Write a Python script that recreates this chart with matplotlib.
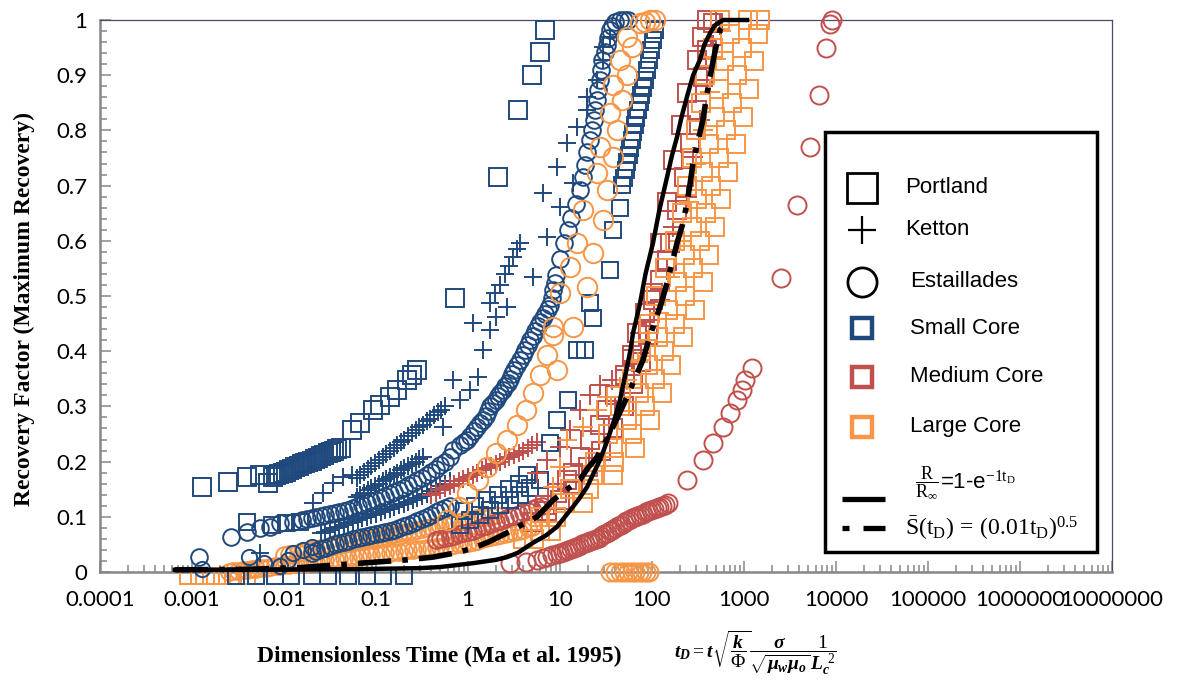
import numpy as np
import matplotlib
matplotlib.use("Agg")
import matplotlib.pyplot as plt
from matplotlib.patches import Rectangle
from matplotlib.ticker import FixedLocator, LogLocator, MultipleLocator, FuncFormatter, NullFormatter

plt.rcParams['font.family'] = ['Lato', 'DejaVu Sans']
plt.rcParams['mathtext.fontset'] = 'custom'
plt.rcParams['mathtext.rm'] = 'Liberation Serif'
plt.rcParams['mathtext.it'] = 'Liberation Serif:italic:bold'
plt.rcParams['mathtext.bf'] = 'Liberation Serif:bold'

BLUE = '#1F497D'
RED = '#C0504D'
ORANGE = '#F79646'

# ---------------- Small core (blue) ----------------
# Portland, small core
ps1_t = [0.00128, 0.00246, 0.00396, 0.0055, 0.0067,
         0.00759, 0.00822, 0.00891, 0.00966, 0.0105, 0.0114, 0.0123, 0.0133, 0.0145, 0.0157, 0.017,
         0.0184, 0.02, 0.0216, 0.0234, 0.0254, 0.0275, 0.0299, 0.0324, 0.0351, 0.038, 0.0412,
         0.0548, 0.067, 0.0927, 0.11, 0.142, 0.169, 0.217, 0.246, 0.279,
         0.722, 2.12, 3.49, 4.96, 6.07, 6.88]
ps1_r = [0.154, 0.163, 0.172, 0.176, 0.161,
         0.172, 0.175, 0.177, 0.18, 0.182, 0.185, 0.187, 0.19, 0.192, 0.195, 0.197, 0.2, 0.202, 0.205,
         0.207, 0.21, 0.212, 0.215, 0.217, 0.22, 0.222, 0.225,
         0.257, 0.27, 0.293, 0.303, 0.317, 0.33, 0.348, 0.357, 0.366,
         0.496, 0.716, 0.837, 0.900, 0.942, 0.982]
ps2_t = [0.004, 0.0075, 0.0105, 0.015, 0.82, 1.05, 1.35, 1.73, 2.23, 2.86, 3.67, 4.72, 6.07, 7.79, 9.28,
         12.2, 15.3, 18.7, 22.8, 21.2, 34.9, 37.7, 44.9, 47.2, 49.5, 52, 53.5, 56, 57.7, 60.7, 62.2, 65.3,
         67, 70.4, 74.1, 76, 79.8, 84, 88, 93, 98, 102.5, 108]
ps2_r = [0.091, 0.085, 0.088, 0.09, 0.085, 0.094, 0.103, 0.112, 0.121, 0.13, 0.139, 0.152, 0.167, 0.234,
         0.275, 0.312, 0.402, 0.402, 0.46, 0.487, 0.547, 0.62, 0.66, 0.701, 0.714, 0.728, 0.743, 0.755,
         0.768, 0.783, 0.797, 0.81, 0.822, 0.837, 0.851, 0.864, 0.877, 0.891, 0.909, 0.928, 0.946, 0.964,
         0.982]
ps3_t = [0.9, 1.2, 1.6, 2.1, 2.8, 3.6, 4.4, 0.003, 0.005, 0.008, 0.012, 0.02, 0.03, 0.05, 0.08, 0.12, 0.2]
ps3_r = [0.11, 0.12, 0.13, 0.14, 0.15, 0.16, 0.175, -0.008, -0.008, -0.008, -0.008, -0.008, -0.008,
         -0.008, -0.008, -0.008, -0.008]

# Ketton, small core
ks1_t = [0.0055, 0.0207, 0.0265, 0.0341, 0.0438, 0.055,
         0.0617, 0.0676, 0.0741, 0.0813, 0.0891, 0.0977, 0.107, 0.118, 0.129, 0.141, 0.155, 0.17, 0.186,
         0.204, 0.224, 0.246, 0.269, 0.295, 0.324, 0.355, 0.389, 0.427, 0.468, 0.513, 0.562]
ks1_r = [0.034, 0.125, 0.143, 0.161, 0.172, 0.175,
         0.17, 0.175, 0.181, 0.186, 0.192, 0.197, 0.203, 0.208, 0.213, 0.219, 0.224, 0.23, 0.235, 0.24,
         0.246, 0.251, 0.257, 0.262, 0.267, 0.273, 0.278, 0.284, 0.289, 0.294, 0.3]
ks2_t = [0.0617, 0.0676, 0.0741, 0.0813, 0.0891, 0.0977, 0.107, 0.118, 0.129, 0.141, 0.155, 0.17, 0.186,
         0.204, 0.224, 0.246, 0.269, 0.295, 0.324]
ks2_r = [0.136, 0.14, 0.144, 0.148, 0.152, 0.156, 0.16, 0.164, 0.168, 0.172, 0.176, 0.18, 0.184, 0.188,
         0.192, 0.196, 0.2, 0.204, 0.208]
ks3_t = [0.535, 0.82, 0.69, 1.05, 1.27, 1.46, 1.13, 1.73, 2.0, 2.66, 1.73, 1.95, 2.2, 2.5, 2.8, 3.1, 3.4, 3.67]
ks3_r = [0.263, 0.312, 0.348, 0.33, 0.353, 0.402, 0.451, 0.438, 0.462, 0.48, 0.487, 0.505, 0.52, 0.54,
         0.555, 0.57, 0.585, 0.596]
ks4_t = [5.09, 7.23, 6.5, 10, 13.8, 9.28, 11.9, 15.3, 19.7, 19.7, 25.2, 29.3, 29.3, 34.9]
ks4_r = [0.534, 0.607, 0.687, 0.661, 0.705, 0.734, 0.777, 0.806, 0.837, 0.861, 0.891, 0.928, 0.951, 0.969]
ks5_t = [0.0251, 0.0282, 0.0316, 0.0355, 0.0398, 0.0447, 0.0501, 0.0562, 0.0631, 0.0708, 0.0794, 0.0891,
         0.1, 0.112, 0.126, 0.141, 0.158, 0.178, 0.2, 0.224, 0.251, 0.282, 0.316, 0.355, 0.398, 0.447,
         0.501, 0.562, 0.631]
ks5_r = [0.07, 0.073, 0.076, 0.079, 0.082, 0.085, 0.088, 0.091, 0.094, 0.097, 0.1, 0.103, 0.106, 0.109,
         0.112, 0.115, 0.118, 0.121, 0.124, 0.127, 0.13, 0.134, 0.138, 0.142, 0.146, 0.15, 0.155, 0.16,
         0.165]

# Estaillades, small core
es1_t = [0.0012, 0.00265, 0.004, 0.0055, 0.007, 0.009, 0.0125,
         0.0158, 0.0178, 0.02, 0.0224, 0.0251, 0.0282, 0.0316, 0.0355, 0.0398, 0.0447, 0.0501, 0.0562,
         0.0631, 0.0708, 0.0794, 0.0891, 0.1, 0.112, 0.126, 0.141, 0.158, 0.178, 0.2, 0.224, 0.251, 0.282,
         0.316, 0.355, 0.398, 0.447, 0.501, 0.562, 0.631, 0.69,
         0.82, 0.9, 0.975, 1.06, 1.15, 1.25, 1.35, 1.45, 1.55, 1.64, 1.73, 1.86, 2.0, 2.11, 2.23, 2.39, 2.55,
         2.7, 2.86, 3.02, 3.2, 3.43, 3.67, 3.93, 4.2, 4.45, 4.72, 5.05, 5.4, 5.72, 6.07, 6.47, 6.9, 7.33,
         7.79, 8.1, 8.4, 8.72, 9.06, 10.0, 11.1, 12.2, 13.3, 14.8, 16.5, 17.6, 18.7, 19.9, 21.2, 22.3, 23.5,
         24.3, 25.2, 26.2, 27.2, 27.9, 28.6, 30.5, 32.4, 33.6, 34.9, 37.2, 39.6, 44.9, 50, 54.8]
es1_r = [0.027, 0.063, 0.072, 0.08, 0.082, 0.089, 0.091,
         0.094, 0.096, 0.098, 0.1, 0.101, 0.103, 0.105, 0.107, 0.109, 0.111, 0.113, 0.116, 0.119, 0.122,
         0.125, 0.128, 0.131, 0.134, 0.137, 0.141, 0.145, 0.149, 0.153, 0.157, 0.161, 0.166, 0.171, 0.176,
         0.181, 0.187, 0.193, 0.2, 0.208, 0.221,
         0.23, 0.235, 0.239, 0.247, 0.255, 0.262, 0.27, 0.276, 0.282, 0.291, 0.3, 0.306, 0.312, 0.318,
         0.324, 0.33, 0.337, 0.343, 0.35, 0.358, 0.366, 0.375, 0.384, 0.393, 0.402, 0.411, 0.42, 0.428,
         0.437, 0.445, 0.453, 0.46, 0.468, 0.476, 0.484, 0.497, 0.51, 0.524, 0.538, 0.567, 0.596, 0.619,
         0.641, 0.667, 0.692, 0.715, 0.737, 0.76, 0.783, 0.801, 0.819, 0.837, 0.855, 0.873, 0.891, 0.91,
         0.928, 0.942, 0.955, 0.968, 0.982, 0.99, 0.996, 1.0, 1.0, 1.0]
es2_t = [0.02, 0.0224, 0.0251, 0.0282, 0.0316, 0.0355, 0.0398, 0.0447, 0.0501, 0.0562, 0.0631, 0.0708,
         0.0794, 0.0891, 0.1, 0.112, 0.126, 0.141, 0.158, 0.178, 0.2, 0.224, 0.251, 0.282, 0.316, 0.355,
         0.398, 0.447, 0.501, 0.562, 0.631]
es2_r = [0.035, 0.038, 0.041, 0.044, 0.047, 0.05, 0.053, 0.055, 0.057, 0.059, 0.061, 0.063, 0.065, 0.067,
         0.069, 0.071, 0.073, 0.075, 0.077, 0.08, 0.083, 0.086, 0.089, 0.092, 0.096, 0.1, 0.104, 0.108,
         0.112, 0.116, 0.12]
es3_t = [0.0013, 0.0042, 0.006, 0.009, 0.011, 0.0125, 0.016, 0.02]
es3_r = [0.006, 0.027, 0.016, 0.01, 0.022, 0.034, 0.04, 0.045]

# ---------------- Large core (orange) ----------------
pl1_t = [0.0009, 0.0012, 0.0016, 0.0021, 0.0028, 0.004]
pl1_r = [-0.007, -0.007, -0.007, -0.007, -0.007, -0.007]
pl2_t = [4, 6, 13, 24, 33, 45, 60, 75, 92, 110, 140, 180, 210, 240, 270, 300, 340, 380, 460, 550]
pl2_r = [0.06, 0.1, 0.15, 0.2, 0.25, 0.3, 0.35, 0.4, 0.45, 0.5, 0.55, 0.6, 0.65, 0.7, 0.75, 0.8, 0.85,
         0.9, 0.95, 1.0]
pl3_t = [6, 11, 23, 38, 54, 72, 91, 117, 149, 185, 227, 270, 310, 355, 415, 480, 535, 605, 700]
pl3_r = [0.075, 0.125, 0.175, 0.225, 0.275, 0.325, 0.375, 0.425, 0.475, 0.525, 0.575, 0.625, 0.675,
         0.725, 0.775, 0.825, 0.875, 0.925, 0.975]
pl4_t = [5.2, 9, 20.5, 39, 60, 84, 108, 135, 180, 230, 280, 335, 390, 440, 530, 640, 740, 830, 950, 1100]
pl4_r = [0.06, 0.1, 0.15, 0.2, 0.25, 0.3, 0.35, 0.4, 0.45, 0.5, 0.55, 0.6, 0.65, 0.7, 0.75, 0.8, 0.85,
         0.9, 0.95, 1.0]
pl5_t = [8, 18, 38, 65, 95, 128, 162, 215, 290, 360, 420, 485, 560, 670, 820, 970, 1120, 1270, 1420, 1500]
pl5_r = [0.075, 0.125, 0.175, 0.225, 0.275, 0.325, 0.375, 0.425, 0.475, 0.525, 0.575, 0.625, 0.675,
         0.725, 0.775, 0.825, 0.875, 0.925, 0.975, 1.0]
kl1_t = [8.4, 10, 11.9, 17.8, 25.2, 32.4, 44.9, 53.5, 70, 90, 120, 157, 200, 250, 300, 360, 430, 500, 560]
kl1_r = [0.154, 0.19, 0.239, 0.263, 0.293, 0.317, 0.335, 0.348, 0.38, 0.42, 0.47, 0.534, 0.6, 0.67, 0.74,
         0.8, 0.87, 0.93, 0.98]
el1_t = [0.0025, 0.00282, 0.00316, 0.00355, 0.00398, 0.00447, 0.00501, 0.00562, 0.00631, 0.00708,
         0.00794, 0.00891, 0.01, 0.0112, 0.0126, 0.0141, 0.0158, 0.0178, 0.02, 0.0224, 0.0251, 0.0282,
         0.0316, 0.0355, 0.0398, 0.0447, 0.0501, 0.0562, 0.0631, 0.0708, 0.0794, 0.0891, 0.1, 0.112, 0.126,
         0.141, 0.158, 0.178, 0.2, 0.224, 0.251, 0.282, 0.316, 0.355, 0.398, 0.447, 0.501, 0.562, 0.631,
         0.708, 0.794, 0.891, 1.0, 1.12, 1.26, 1.41, 1.58, 1.78, 2.0, 2.24, 2.51, 2.82, 3.16, 3.55, 3.98,
         4.47, 5.01]
el1_r = [0.0, 0.001, 0.002, 0.003, 0.004, 0.005, 0.006, 0.007, 0.008, 0.009, 0.01, 0.011, 0.012,
         0.013, 0.014, 0.015, 0.016, 0.017, 0.018, 0.019, 0.02, 0.021, 0.022, 0.023, 0.024, 0.025, 0.026,
         0.027, 0.028, 0.029, 0.03, 0.031, 0.032,
         0.033, 0.034, 0.035, 0.036, 0.037, 0.038, 0.039, 0.04, 0.041, 0.042, 0.043, 0.044, 0.045, 0.046,
         0.047, 0.048, 0.049, 0.05, 0.051, 0.053,
         0.055, 0.057, 0.059, 0.061, 0.063, 0.065, 0.067, 0.069, 0.071, 0.073, 0.075, 0.077, 0.079, 0.081]
el2_t = [0.01, 0.0112, 0.0126, 0.0141, 0.0158, 0.0178, 0.02, 0.0224, 0.0251, 0.0282, 0.0316, 0.0355,
         0.0398, 0.0447, 0.0501, 0.0562, 0.0631, 0.0708, 0.0794, 0.0891, 0.1, 0.112, 0.126, 0.141, 0.158,
         0.178, 0.2, 0.224, 0.251, 0.282, 0.316, 0.355, 0.398, 0.447, 0.501, 0.562, 0.631, 0.708, 0.794,
         0.891, 1.0, 1.12, 1.26, 1.41, 1.58, 1.78, 2.0]
el2_r = [0.03, 0.032, 0.033, 0.035, 0.036, 0.038, 0.04, 0.041, 0.043, 0.044, 0.046, 0.048, 0.049, 0.051,
         0.052, 0.054, 0.056, 0.057, 0.059, 0.06, 0.062, 0.064, 0.065, 0.067, 0.068, 0.07, 0.072, 0.073,
         0.075, 0.076, 0.078, 0.08, 0.081, 0.083, 0.084, 0.086, 0.088, 0.089, 0.091, 0.092, 0.094, 0.096,
         0.097, 0.099, 0.1, 0.102, 0.104]
el3_t = [0.591, 0.79, 0.975, 1.27, 1.6, 2.0, 2.66, 3.37, 4.3, 5.09, 6.07, 7.23, 8.39, 10, 12.8, 15.3, 17.8,
         25.2, 27.2, 34.9, 37.7, 44.9, 53.5, 74.1]
el3_r = [0.094, 0.118, 0.143, 0.167, 0.19, 0.216, 0.239, 0.266, 0.293, 0.324, 0.357, 0.393, 0.429, 0.505,
         0.553, 0.596, 0.656, 0.723, 0.77, 0.832, 0.882, 0.928, 0.969, 0.995]
el4_t = [8.39, 13.8, 9.28, 19.7, 22.8, 29.3, 32.4, 37.7, 41.7, 47.2, 53.5, 60.7, 84, 95.1, 108]
el4_r = [0.444, 0.444, 0.366, 0.516, 0.578, 0.638, 0.692, 0.752, 0.801, 0.855, 0.9, 0.951, 0.996, 1.0, 1.0]
el5_t = [35, 40, 45, 50, 55, 60, 66, 72, 78, 85, 92]
el5_r = [0, 0, 0, 0, 0, 0, 0, 0, 0, 0, 0]

# ---------------- Medium core (red) ----------------
em1_t = [2.86, 4.3, 5.63, 6.5, 7.23, 8.2, 9.28,
         10, 10.7, 11.5, 12.3, 13.2, 14.1, 15.1, 16.2, 17.4, 18.6, 20.0, 21.4, 22.9, 24.5, 26.3, 28.2,
         30.2, 32.4, 34.7, 37.2, 39.8, 42.7, 45.7, 49.0, 52.5, 56.2, 60.3, 64.6, 69.2, 74.1, 79.4, 85.1,
         91.2, 97.7, 104.7, 112.2, 120.2, 128.8, 138.0, 147.9,
         240, 358, 460, 591, 705, 839, 951, 1026, 1222]
em1_r = [0.016, 0.019, 0.022, 0.025, 0.027, 0.03, 0.032,
         0.034, 0.036, 0.038, 0.04, 0.042, 0.044, 0.046, 0.048, 0.05, 0.052, 0.054, 0.056, 0.058, 0.06,
         0.062, 0.065, 0.068, 0.071, 0.074, 0.077, 0.08, 0.083, 0.086, 0.089, 0.092, 0.095, 0.098, 0.1,
         0.102, 0.104, 0.106, 0.108, 0.11, 0.112, 0.114, 0.116, 0.118, 0.12, 0.122, 0.125,
         0.167, 0.203, 0.234, 0.263, 0.288, 0.312, 0.33, 0.348, 0.37]
em2_t = [2524, 3767, 5212, 6531, 7785, 8600, 9050]
em2_r = [0.533, 0.665, 0.77, 0.864, 0.949, 0.993, 1.0]
em3_t = [0.447, 0.501, 0.562, 0.631, 0.708, 0.794, 0.891, 1.0, 1.12, 1.26, 1.41, 1.58, 1.78, 2.0, 2.24,
         2.51, 2.82, 3.16, 3.55, 3.98, 4.47, 5.01, 5.62, 6.31]
em3_r = [0.058, 0.06, 0.062, 0.064, 0.066, 0.068, 0.07, 0.072, 0.075, 0.078, 0.081, 0.084, 0.087, 0.09,
         0.093, 0.096, 0.099, 0.102, 0.105, 0.108, 0.111, 0.114, 0.117, 0.12]
km1_t = [0.398, 0.447, 0.501, 0.562, 0.631, 0.708, 0.794, 0.891, 1.0, 1.12, 1.26, 1.41, 1.58, 1.78, 2.0,
         2.24, 2.51, 2.82, 3.16, 3.55, 3.98, 4.47, 5.01, 5.62]
km1_r = [0.14, 0.144, 0.148, 0.152, 0.156, 0.16, 0.164, 0.168, 0.172, 0.176, 0.18, 0.184, 0.188, 0.192,
         0.196, 0.2, 0.204, 0.208, 0.212, 0.216, 0.22, 0.225, 0.23, 0.236]
km2_t = [5.63, 7.23, 10, 12.8, 16.5, 21.2, 27.2, 36.7, 50.9, 62.2, 74.1, 95.1, 122, 146, 169, 240, 279,
         332, 395, 460, 548]
km2_r = [0.179, 0.203, 0.226, 0.257, 0.293, 0.321, 0.339, 0.348, 0.366, 0.402, 0.433, 0.457, 0.493, 0.547,
         0.625, 0.679, 0.752, 0.819, 0.891, 0.955, 0.991]
pm1_t = [6.88, 9.28, 11.9, 13.8, 16.5, 21.2, 27.2, 32.4, 39.6, 50.9, 60.7, 68.7, 84, 102.5, 122, 146, 157,
         187, 220, 259, 307, 358, 395, 460]
pm1_r = [0.121, 0.143, 0.167, 0.179, 0.208, 0.239, 0.266, 0.293, 0.321, 0.357, 0.393, 0.433, 0.469, 0.493,
         0.529, 0.565, 0.596, 0.656, 0.716, 0.777, 0.837, 0.897, 0.946, 0.995]
pm2_t = [5.09, 7.23, 10, 14, 20, 28, 38, 50, 62, 75, 90, 102.5, 122, 146, 169, 205, 240, 307, 350, 395]
pm2_r = [0.09, 0.11, 0.13, 0.16, 0.19, 0.22, 0.26, 0.3, 0.34, 0.38, 0.43, 0.505, 0.596, 0.67, 0.746, 0.81,
         0.868, 0.928, 0.97, 1.0]

# ---------------- Model curves ----------------
exp_t = [0.00065, 0.0043, 0.052, 0.3, 0.497, 1.13, 2.0, 2.66, 3.5, 5.09, 7, 9.28, 11.3, 13.8, 16.5, 19.7,
         23, 27.2, 31, 34.9, 40, 44.9, 49, 53.5, 58, 62.2, 68, 74.1, 85, 102.5, 120, 146, 165, 187, 210,
         240, 280, 332, 370, 427, 480, 591, 1079]
exp_r = [0.004, 0.004, 0.005, 0.007, 0.009, 0.016, 0.022, 0.027, 0.035, 0.053, 0.066, 0.082, 0.1, 0.118,
         0.135, 0.154, 0.178, 0.203, 0.228, 0.252, 0.282, 0.312, 0.342, 0.371, 0.4, 0.433, 0.46, 0.487,
         0.54, 0.596, 0.655, 0.716, 0.755, 0.788, 0.825, 0.861, 0.9, 0.928, 0.955, 0.976, 0.99, 1.0, 1.0]
sq_t = [0.00065, 0.0043, 0.015, 0.067, 0.217, 0.417, 0.7, 1.13, 1.7, 2.66, 3.8, 5.63, 8.39, 11.5, 16.5,
        20, 25.2, 31, 37.7, 45, 53.5, 65, 79.8, 90, 102.5, 125, 146, 165, 187, 215, 240, 260, 279, 315,
        358, 390, 427, 480, 548, 653]
sq_r = [0.004, 0.005, 0.008, 0.016, 0.022, 0.027, 0.034, 0.043, 0.055, 0.071, 0.085, 0.1, 0.13, 0.148,
        0.167, 0.188, 0.208, 0.236, 0.263, 0.29, 0.317, 0.35, 0.384, 0.415, 0.444, 0.485, 0.524, 0.56,
        0.596, 0.63, 0.668, 0.705, 0.741, 0.78, 0.819, 0.86, 0.897, 0.94, 0.982, 1.0]

# (t, r, marker, colour, size) in drawing order
series = [
    (el1_t, el1_r, 'o', ORANGE, 12),
    (el2_t, el2_r, 'o', ORANGE, 12),
    (pl1_t, pl1_r, 's', ORANGE, 12),
    (em3_t, em3_r, 'o', RED, 12),
    (es3_t, es3_r, 'o', BLUE, 11),
    (es2_t, es2_r, 'o', BLUE, 12),
    (ks5_t, ks5_r, '+', BLUE, 13),
    (ps3_t, ps3_r, 's', BLUE, 12),
    (ps1_t, ps1_r, 's', BLUE, 13),
    (ks1_t, ks1_r, '+', BLUE, 13),
    (ks2_t, ks2_r, '+', BLUE, 13),
    (km1_t, km1_r, '+', RED, 13),
    (es1_t, es1_r, 'o', BLUE, 12),
    (ks3_t, ks3_r, '+', BLUE, 13),
    (ks4_t, ks4_r, '+', BLUE, 13),
    (ps2_t, ps2_r, 's', BLUE, 12),
    (el3_t, el3_r, 'o', ORANGE, 14),
    (el4_t, el4_r, 'o', ORANGE, 14),
    (el5_t, el5_r, 'o', ORANGE, 13),
    (em1_t, em1_r, 'o', RED, 13),
    (em2_t, em2_r, 'o', RED, 13),
    (pm2_t, pm2_r, 's', RED, 13),
    (pm1_t, pm1_r, 's', RED, 13),
    (km2_t, km2_r, '+', RED, 14),
    (pl2_t, pl2_r, 's', ORANGE, 13),
    (pl3_t, pl3_r, 's', ORANGE, 13),
    (kl1_t, kl1_r, '+', ORANGE, 14),
    (pl4_t, pl4_r, 's', ORANGE, 13),
    (pl5_t, pl5_r, 's', ORANGE, 13),
]

fig = plt.figure(figsize=(11.79, 6.80), dpi=100)
ax = fig.add_axes([0.0848, 0.1588, 0.8584, 0.8118])

for t, r, m, c, s in series:
    ax.plot(t, r, linestyle='none', marker=m, markersize=s, markerfacecolor='none',
            markeredgecolor=c, markeredgewidth=1.4, clip_on=False, zorder=3)

ax.plot(exp_t, exp_r, color='black', lw=3.2, zorder=5, clip_on=False, solid_joinstyle='round')
ax.plot(sq_t, sq_r, color='black', lw=4, linestyle=(0, (6, 2, 1, 2)), zorder=5, clip_on=False)

ax.set_xscale('log')
ax.set_xlim(1e-4, 1e7)
ax.set_ylim(0, 1)
ax.xaxis.set_major_locator(FixedLocator([10.0 ** e for e in range(-4, 8)]))
ax.xaxis.set_minor_locator(LogLocator(base=10, subs=np.arange(2, 10), numticks=200))
ax.xaxis.set_minor_formatter(NullFormatter())


def fmt_decade(v, pos):
    e = int(round(np.log10(v)))
    return f'{10.0 ** e:.{max(0, -e)}f}'


ax.xaxis.set_major_formatter(FuncFormatter(fmt_decade))
ax.yaxis.set_major_locator(MultipleLocator(0.1))
ax.yaxis.set_minor_locator(MultipleLocator(0.02))
ax.yaxis.set_major_formatter(FuncFormatter(lambda v, p: f'{v:g}'))

ax.tick_params(which='both', direction='in', color='#868686', width=1.1, top=False, right=False,
               labelsize=16)
ax.tick_params(which='major', length=8)
ax.tick_params(which='minor', length=5)
ax.tick_params(axis='x', pad=13)
ax.tick_params(axis='y', pad=9)
for side in ['left', 'bottom']:
    ax.spines[side].set_color('#868686')
    ax.spines[side].set_linewidth(1.8)
for side in ['top', 'right']:
    ax.spines[side].set_color('#4E4A6E')
    ax.spines[side].set_linewidth(0.9)

fig.text(0.021, 0.545, 'Recovery Factor (Maximum Recovery)', rotation=90, ha='center', va='center',
         family='Liberation Serif', fontweight='bold', fontsize=17)
fig.text(0.218, 0.034, 'Dimensionless Time (Ma et al. 1995)', ha='left', va='center',
         family='Liberation Serif', fontweight='bold', fontsize=17)
fig.text(0.572, 0.04,
         r'$t_D = t\sqrt{\dfrac{k}{\Phi}}\dfrac{\sigma}{\sqrt{\mu_w\mu_o}}\dfrac{1}{L_c^{\ 2}}$',
         ha='left', va='center', fontsize=14)

# key box, drawn in axes fractions
ax.add_patch(Rectangle((0.7164, 0.0362), 0.2688, 0.7608, transform=ax.transAxes, facecolor='white',
                       edgecolor='black', lw=2.5, zorder=10, clip_on=False))
key = [
    ('s', 'black', 21, 2.0, 0.6957, 'Portland', 0.7955),
    ('+', 'black', 20, 1.6, 0.6196, 'Ketton', 0.7955),
    ('o', 'black', 21, 2.0, 0.5254, 'Estaillades', 0.8004),
    ('s', BLUE, 14, 3.2, 0.4420, 'Small Core', 0.8004),
    ('s', RED, 14, 3.2, 0.3533, 'Medium Core', 0.8004),
    ('s', ORANGE, 14, 3.2, 0.2627, 'Large Core', 0.8004),
]
for m, c, s, w, y, label, xt in key:
    ax.plot([0.7530], [y], transform=ax.transAxes, ls='none', marker=m, ms=s, mfc='none', mec=c,
            mew=w, clip_on=False, zorder=11)
    ax.text(xt, y, label, transform=ax.transAxes, ha='left', va='center', fontsize=16,
            family=['Liberation Sans', 'DejaVu Sans'], zorder=11)

ax.plot([0.7332, 0.7757], [0.1322, 0.1322], transform=ax.transAxes, color='black', lw=3.8,
        solid_capstyle='butt', clip_on=False, zorder=11)
ax.text(0.8050, 0.163, r'$\dfrac{\mathrm{R}}{\mathrm{R}_{\infty}}$', transform=ax.transAxes,
        ha='left', va='center', fontsize=13, zorder=11)
ax.text(0.8300, 0.163, r'=1-e$^{-1\mathrm{t_D}}$', transform=ax.transAxes, ha='left', va='center',
        fontsize=16, family=['Liberation Sans', 'DejaVu Sans'], zorder=11)
ax.plot([0.7332, 0.7401], [0.0797, 0.0797], transform=ax.transAxes, color='black', lw=3.8,
        solid_capstyle='butt', clip_on=False, zorder=11)
ax.plot([0.7539, 0.7757], [0.0797, 0.0797], transform=ax.transAxes, color='black', lw=3.8,
        solid_capstyle='butt', clip_on=False, zorder=11)
ax.text(0.7955, 0.0797, r'$\bar{\mathrm{S}}(\mathrm{t_D})\,=\,(0.01\mathrm{t_D})^{0.5}$',
        transform=ax.transAxes, ha='left', va='center', fontsize=17, zorder=11)

fig.savefig('out.png', dpi=100)
